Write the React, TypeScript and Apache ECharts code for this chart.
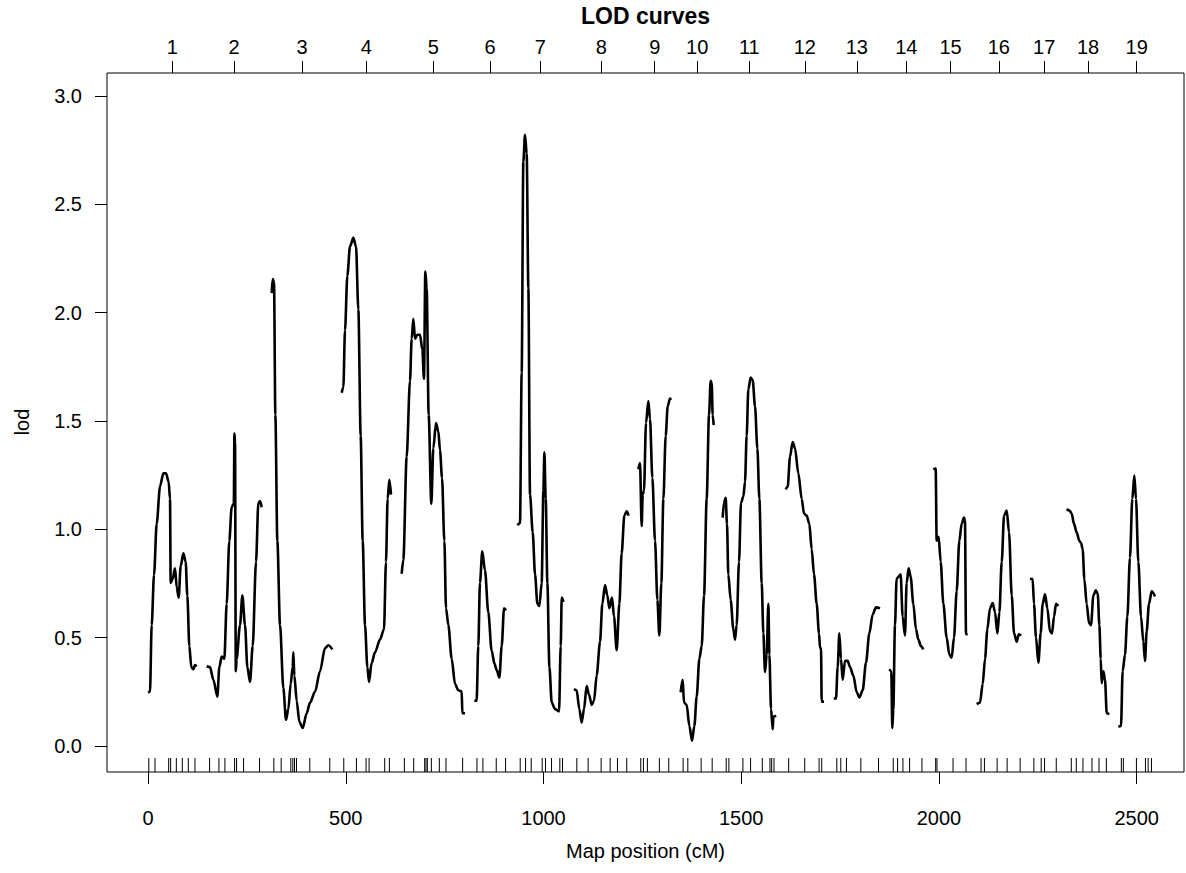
import React, { useEffect, useRef } from "react";
import * as echarts from "echarts";

type Pt = [number, number];

const chromNames = ["1","2","3","4","5","6","7","8","9","10","11","12","13","14","15","16","17","18","19"];

const chr1: Pt[] = [[0,0.248],[5,0.25],[9.3,0.558],[15.2,0.79],[21.9,1.025],[30.4,1.199],[38.8,1.258],[45.5,1.258],[52.2,1.219],[55.6,1.141],[57.3,0.753],[62.3,0.772],[68.3,0.82],[72.5,0.733],[77.5,0.685],[82.6,0.83],[89.3,0.889],[95.2,0.85],[99.4,0.694],[104.5,0.461],[109.5,0.364],[114.6,0.354],[118.8,0.374],[123,0.368]];
const chr2: Pt[] = [[148.3,0.368],[156.8,0.364],[165.2,0.306],[175.3,0.228],[180.4,0.364],[186.3,0.413],[193,0.403],[198.9,0.656],[205.6,0.947],[211.5,1.102],[217,1.12],[218.5,1.442],[220,1.4],[222,0.345],[224,0.4],[232.6,0.558],[238.5,0.694],[245.3,0.558],[251.2,0.364],[257.9,0.296],[264.7,0.461],[273.1,0.85],[279,1.122],[283.2,1.131],[287.4,1.102]];
const chr3: Pt[] = [[312.7,2.09],[315.2,2.155],[318.6,2.141],[322,1.529],[327,0.947],[333.8,0.558],[342.2,0.267],[348.9,0.121],[354.8,0.17],[360.7,0.286],[365.8,0.364],[367.5,0.432],[370,0.325],[375.9,0.209],[382.6,0.112],[391.1,0.083],[401.2,0.151],[409.6,0.2],[422.2,0.25],[434.9,0.345],[447.5,0.452],[456,0.465],[466.1,0.446]];
const chr4: Pt[] = [[489.7,1.63],[493.9,1.656],[498.1,1.918],[504,2.17],[510.8,2.306],[519.2,2.345],[525.9,2.306],[531.8,2.015],[537.7,1.432],[542.8,0.947],[548.7,0.558],[554.6,0.364],[558.8,0.296],[565.5,0.384],[573.9,0.432],[586.6,0.491],[596.7,0.539],[601.7,0.85],[605.9,1.141],[610.2,1.228],[614.4,1.16]];
const chr5: Pt[] = [[641.4,0.795],[645.6,0.859],[654,1.335],[662.4,1.685],[666.7,1.879],[670.9,1.972],[675.1,1.879],[681,1.898],[687.7,1.898],[693.6,1.83],[697.8,1.695],[701.2,2.19],[704.6,2.112],[709.6,1.529],[716.4,1.118],[721.4,1.374],[728.2,1.491],[734.1,1.452],[738.3,1.364],[743.4,1.238],[749.3,0.947],[753.5,0.636],[759.4,0.558],[767.8,0.403],[776.3,0.286],[784.7,0.257],[793.1,0.252],[794.8,0.151],[801.6,0.151]];
const chr6: Pt[] = [[825,0.209],[830.9,0.209],[835.1,0.461],[839.3,0.753],[845.2,0.898],[852,0.811],[860.4,0.617],[868.8,0.442],[876,0.38],[881.6,0.35],[888.4,0.316],[894.3,0.461],[900.2,0.636],[905.3,0.626]];
const chr7: Pt[] = [[933.9,1.019],[940.6,1.028],[944.8,1.724],[949,2.695],[953.2,2.821],[957.5,2.734],[961.7,2.112],[965.9,1.16],[972.7,0.986],[978.6,0.792],[984.5,0.656],[989.5,0.646],[995.4,0.753],[999.7,1.18],[1002.2,1.355],[1005.6,1.141],[1009.8,0.753],[1014.9,0.364],[1020.8,0.2],[1029.2,0.17],[1039.3,0.16],[1043.5,0.461],[1046.1,0.685],[1050.3,0.665]];
const chr8: Pt[] = [[1077.1,0.263],[1083.9,0.257],[1090.6,0.17],[1096.5,0.108],[1102.4,0.17],[1109.1,0.277],[1115,0.238],[1121.8,0.19],[1127.7,0.209],[1134.4,0.325],[1142.9,0.481],[1148.8,0.656],[1155.5,0.743],[1161.4,0.694],[1166.5,0.636],[1173.2,0.685],[1178.3,0.597],[1185,0.442],[1191.8,0.656],[1197.6,0.889],[1204.4,1.063],[1210.3,1.083],[1215.4,1.063]];
const chr9: Pt[] = [[1239.8,1.277],[1244,1.306],[1248.2,1.015],[1250.8,1.16],[1254.1,1.18],[1259.2,1.491],[1265.1,1.592],[1269.3,1.51],[1275.2,1.238],[1282,0.947],[1287.9,0.675],[1292.9,0.51],[1298,0.753],[1303.1,1.141],[1309,1.432],[1314,1.568],[1319.9,1.603],[1322.5,1.597]];
const chr10: Pt[] = [[1346.8,0.248],[1351.9,0.306],[1355.3,0.2],[1362,0.19],[1368.8,0.092],[1375.5,0.024],[1381.4,0.092],[1387.3,0.228],[1394.1,0.403],[1400,0.461],[1405.9,0.694],[1412.6,1.141],[1418.5,1.529],[1422.7,1.685],[1425.3,1.675],[1427.8,1.529],[1430.3,1.481]];
const chr11: Pt[] = [[1453,1.054],[1456.4,1.122],[1460.6,1.145],[1464,1.025],[1467.3,0.792],[1473.2,0.675],[1480,0.539],[1484.2,0.491],[1488.4,0.558],[1494.3,0.85],[1499.4,1.122],[1505.3,1.151],[1509.5,1.219],[1513.7,1.432],[1517.9,1.646],[1523.8,1.7],[1528.9,1.689],[1534.8,1.568],[1540.7,1.374],[1545.8,1.141],[1551.7,0.753],[1555.9,0.52],[1560.1,0.341],[1564.3,0.422],[1568.6,0.656],[1571.1,0.422],[1575.3,0.17],[1579.6,0.077],[1581.2,0.135],[1588,0.141]];
const chr12: Pt[] = [[1612.3,1.184],[1617.4,1.196],[1623.3,1.335],[1630,1.403],[1635.9,1.374],[1644.4,1.258],[1652.8,1.141],[1658.7,1.073],[1665.4,1.063],[1672.2,1.025],[1678.1,0.908],[1684,0.792],[1690.7,0.656],[1696.6,0.52],[1699.2,0.452],[1701.7,0.452],[1703.4,0.205],[1709.3,0.205]];
const chr13: Pt[] = [[1733.7,0.219],[1739.6,0.219],[1743.8,0.364],[1748,0.52],[1752.2,0.403],[1756.4,0.306],[1762.4,0.393],[1769.1,0.393],[1775,0.364],[1783.4,0.325],[1791.9,0.248],[1798.6,0.224],[1807,0.257],[1815.4,0.384],[1823.9,0.52],[1832.3,0.607],[1840.7,0.64],[1850.9,0.636]];
const chr14: Pt[] = [[1874.4,0.354],[1879.4,0.345],[1882,0.083],[1884.5,0.17],[1888.7,0.558],[1892.9,0.772],[1898,0.782],[1903,0.792],[1908.1,0.597],[1914,0.51],[1918.2,0.753],[1923.3,0.82],[1928.3,0.782],[1935.1,0.656],[1941.8,0.539],[1947.7,0.491],[1954.4,0.461],[1960.3,0.446]];
const chr15: Pt[] = [[1985.7,1.277],[1991.6,1.281],[1994.1,0.947],[1999.2,0.966],[2004.2,0.85],[2011,0.656],[2019.4,0.5],[2026.1,0.422],[2032,0.407],[2037.9,0.5],[2044.7,0.714],[2051.4,0.947],[2057.3,1.025],[2063.2,1.054],[2065.7,1.044],[2068.3,0.516],[2072.5,0.516]];
const chr16: Pt[] = [[2095.3,0.193],[2103.7,0.2],[2110.5,0.286],[2116.4,0.403],[2122.3,0.539],[2129,0.636],[2135.8,0.66],[2141.7,0.617],[2147.6,0.52],[2152.7,0.617],[2158.6,0.85],[2164.5,1.063],[2171.2,1.087],[2177.1,0.986],[2183.9,0.694],[2189.8,0.52],[2196.5,0.481],[2201.6,0.516],[2207.5,0.51]];
const chr17: Pt[] = [[2230.1,0.772],[2236.8,0.77],[2240.2,0.656],[2245.3,0.5],[2251.2,0.384],[2257.1,0.52],[2262.2,0.656],[2268.1,0.7],[2274,0.636],[2280.7,0.529],[2285.8,0.52],[2290.8,0.597],[2295.9,0.656],[2301.8,0.646]];
const chr18: Pt[] = [[2322.8,1.093],[2329.6,1.087],[2335.5,1.073],[2341.4,1.025],[2348.1,0.986],[2354.8,0.947],[2359.1,0.937],[2363.3,0.908],[2367.5,0.772],[2373.4,0.656],[2379.3,0.568],[2384.4,0.558],[2390.3,0.694],[2396.2,0.718],[2401.3,0.704],[2405.5,0.558],[2408.9,0.403],[2411.4,0.29],[2415.6,0.345],[2419.8,0.306],[2424.1,0.151],[2430.8,0.147]];
const chr19: Pt[] = [[2453.4,0.089],[2460.2,0.092],[2464.4,0.345],[2470.3,0.422],[2476.2,0.597],[2482.9,0.869],[2488.8,1.141],[2493.9,1.248],[2498.1,1.141],[2504,0.85],[2510.8,0.597],[2516.7,0.481],[2520.9,0.393],[2525.1,0.529],[2531,0.656],[2537.8,0.714],[2546.2,0.69]];

const chromosomes: Pt[][] = [chr1,chr2,chr3,chr4,chr5,chr6,chr7,chr8,chr9,chr10,chr11,chr12,chr13,chr14,chr15,chr16,chr17,chr18,chr19];

const markers: number[] = [2,17.7,52.2,57.2,71.6,86.7,101.9,118.7,155.7,179.3,194.5,218.9,223.9,241.6,282,318.2,336.7,361.1,366.2,370.4,375.4,409.1,459.6,495,527,551.4,559,598.5,610.3,648.2,671.8,699.5,702.9,706.3,716.4,736.6,753.4,795.5,831.7,846.8,880.5,904.1,941.1,954.6,968.9,996.7,1005.1,1020.3,1041.3,1048.1,1084.3,1112.9,1145.7,1168.5,1187,1210.5,1245.9,1252.6,1262.7,1293,1316.7,1353,1364.9,1398.6,1426.5,1462,1468.7,1504.2,1523.6,1553.2,1572.6,1576.9,1582.8,1619.9,1660.5,1696.8,1703.5,1741.6,1751.7,1766,1802.4,1847.1,1884.3,1895.3,1908.8,1925.7,1956.9,1991.6,1994.9,2035.5,2068.4,2106.4,2114.9,2147,2172.3,2205.2,2239.9,2258.4,2266.9,2296.5,2334.5,2347.1,2364,2386.8,2404.6,2423.2,2461.1,2466.2,2499.2,2522,2528.8,2537.2];

const xTicks: number[] = [0, 500, 1000, 1500, 2000, 2500];
const yTicks: number[] = [0, 0.5, 1, 1.5, 2, 2.5, 3];

const X_MIN = -103.7;
const X_MAX = 2619.5;
const Y_MIN = -0.12;
const Y_MAX = 3.106;

const FONT = "'Liberation Sans', Arial, Helvetica, sans-serif";

export default function App() {
  const ref = useRef<HTMLDivElement>(null);
  useEffect(() => {
    document.body.style.margin = "0";
    if (!ref.current) return;
    const chart = echarts.init(ref.current, null, { renderer: "svg" });
    const chrMid = chromosomes.map((c) => (c[0][0] + c[c.length - 1][0]) / 2);
    const lineSeries = chromosomes.map((c, i) => ({
      type: "line",
      name: "chr" + chromNames[i],
      data: c,
      xAxisIndex: 0,
      yAxisIndex: 0,
      showSymbol: false,
      symbol: "none",
      smooth: 0.3,
      smoothMonotone: "x",
      silent: true,
      lineStyle: { color: "#000", width: 2.6 },
    }));
    const option: any = {
      animation: false,
      grid: {
        left: 107, top: 73, right: 2, bottom: 101,
        show: true, borderColor: "#000", borderWidth: 1,
        backgroundColor: "transparent",
        outerBoundsMode: "none",
      },
      xAxis: [
        {
          type: "value", position: "bottom", min: X_MIN, max: X_MAX,
          axisLine: { show: false, onZero: false },
          splitLine: { show: false },
          axisTick: { show: true, length: 12, customValues: xTicks, lineStyle: { color: "#000", width: 1 } },
          axisLabel: {
            customValues: xTicks, fontSize: 20, color: "#000", fontFamily: FONT, margin: 36,
            formatter: (v: number) => String(Math.round(v)),
          },
        },
        {
          type: "value", position: "top", min: X_MIN, max: X_MAX,
          axisLine: { show: false, onZero: false },
          splitLine: { show: false },
          axisTick: { show: true, length: 12, customValues: chrMid, lineStyle: { color: "#000", width: 1 } },
          axisLabel: {
            customValues: chrMid, fontSize: 20, color: "#000", fontFamily: FONT, margin: 16,
            formatter: (v: number) => {
              let best = 0;
              for (let i = 0; i < chrMid.length; i++) {
                if (Math.abs(chrMid[i] - v) < Math.abs(chrMid[best] - v)) best = i;
              }
              return chromNames[best];
            },
          },
        },
      ],
      yAxis: [
        {
          type: "value", min: Y_MIN, max: Y_MAX,
          axisLine: { show: false, onZero: false },
          splitLine: { show: false },
          axisTick: { show: true, length: 12, customValues: yTicks, lineStyle: { color: "#000", width: 1 } },
          axisLabel: {
            customValues: yTicks, fontSize: 20, color: "#000", fontFamily: FONT, margin: 25,
            formatter: (v: number) => v.toFixed(1),
          },
        },
      ],
      graphic: [
        {
          type: "text", x: 645.5, y: 16,
          style: { text: "LOD curves", fill: "#000", font: `bold 23px ${FONT}`, align: "center", verticalAlign: "middle", textAlign: "center", textVerticalAlign: "middle" },
        },
        {
          type: "text", x: 645.5, y: 851,
          style: { text: "Map position (cM)", fill: "#000", font: `20px ${FONT}`, align: "center", verticalAlign: "middle", textAlign: "center", textVerticalAlign: "middle" },
        },
        {
          type: "text", x: 22, y: 422, rotation: Math.PI / 2,
          style: { text: "lod", fill: "#000", font: `20px ${FONT}`, align: "center", verticalAlign: "middle", textAlign: "center", textVerticalAlign: "middle" },
        },
      ],
      series: [
        ...lineSeries,
        {
          type: "custom",
          name: "markers",
          silent: true,
          xAxisIndex: 0,
          yAxisIndex: 0,
          data: markers.map((m) => [m, Y_MIN]),
          encode: { x: 0, y: 1 },
          renderItem: (params: any, api: any) => {
            const p = api.coord([api.value(0), Y_MIN]);
            return {
              type: "line",
              shape: { x1: p[0], y1: p[1], x2: p[0], y2: p[1] - 14 },
              style: { stroke: "#000", lineWidth: 1 },
            };
          },
        },
      ],
    };
    chart.setOption(option);
    return () => chart.dispose();
  }, []);
  return <div ref={ref} style={{ width: 1186, height: 873 }} />;
}
